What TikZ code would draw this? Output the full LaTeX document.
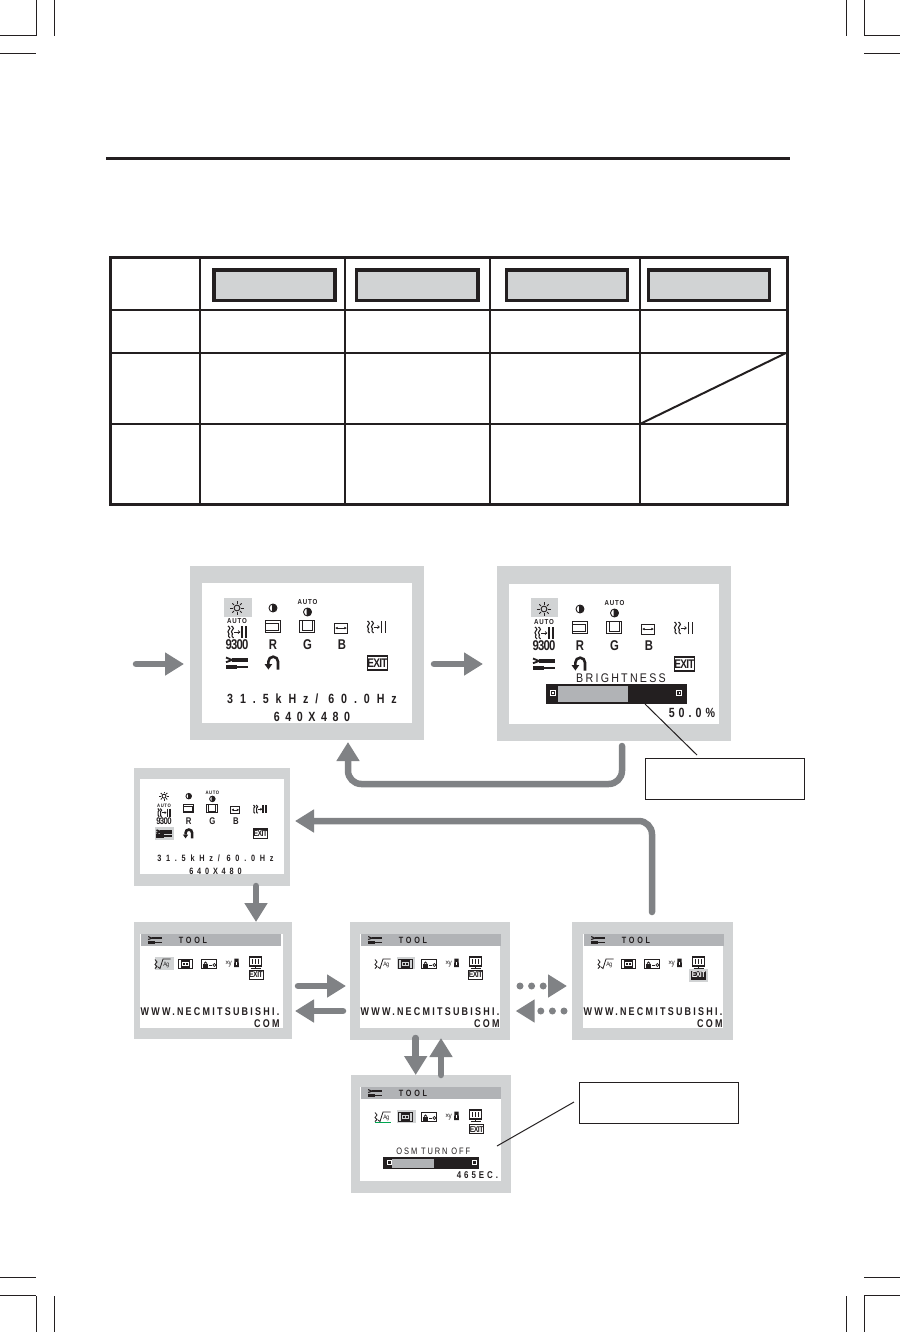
\documentclass[tikz,border=0pt]{standalone}
\usepackage{fontspec}
\setmainfont{Liberation Sans}
\newfontfamily\osdwide[FakeStretch=.8,LetterSpace=52]{Liberation Sans}
\newfontfamily\osdpair[FakeStretch=.8,LetterSpace=42]{Liberation Sans}
\newfontfamily\osdmid[FakeStretch=.8,LetterSpace=20]{Liberation Sans}
\newfontfamily\osdsemi[FakeStretch=.8,LetterSpace=30]{Liberation Sans}
\newfontfamily\osdauto[FakeStretch=.85,LetterSpace=12]{Liberation Sans}
\newfontfamily\osdthin[FakeStretch=.85,LetterSpace=18]{Liberation Sans}
\newfontfamily\osdtight[FakeStretch=.8,LetterSpace=-6]{Liberation Sans}
\usetikzlibrary{arrows.meta}
\definecolor{ink}{HTML}{231F20}
\definecolor{framegray}{HTML}{D1D3D4}
\definecolor{arrowgray}{HTML}{808285}
\definecolor{bandgray}{HTML}{B1B3B6}
\definecolor{okgreen}{HTML}{00A651}
\tikzset{
  px/.style={line width=#1*.75pt},
  ic/.style={draw=ink,px=.9},
  osdframe/.style={fill=framegray,draw=none,inner sep=0pt,anchor=north west,outer sep=0pt},
  screenw/.style={fill=white,draw=none,inner sep=0pt,anchor=north west,outer sep=0pt},
  txt/.style={inner sep=0pt,outer sep=0pt,text=ink},
  flow/.style={draw=arrowgray,px=6.5,line cap=round,-{Triangle[length=14.25pt,width=16.5pt]}},
  flowdots/.style={draw=arrowgray,px=7,line cap=round,dash pattern=on 0pt off 8.7pt,-{Triangle[length=14.25pt,width=16.5pt]}},
  tablerule/.style={draw=ink,px=2},
  tableedge/.style={draw=ink,px=3},
  headbox/.style={fill=framegray,draw=ink,px=3.5},
  leader/.style={draw=ink,px=1},
  callout/.style={draw=ink,px=1.2,fill=white},
  bargray/.style={fill=bandgray,draw=none},
  barblack/.style={fill=ink,draw=none},
}
% ---------- icons
\newcommand\icsun[1]{\begin{scope}[shift={(#1)}]\draw[ic] (0,0) circle (2.9);\foreach \a in {0,45,...,315}{\draw[ic] (\a:4.3)--(\a:6.6);}\end{scope}}
\newcommand\iccontrast[1]{\begin{scope}[shift={(#1)}]\draw[ic,fill=white] (0,0) circle (4);\fill[ink] (-1,-4) arc (-104:104:4.1) -- cycle;\end{scope}}
\newcommand\icauto[2]{\node[txt,font=\osdauto\bfseries\fontsize{5.4}{6}\selectfont] (#1) at (#2) {AUTO};}
\newcommand\ichpos[1]{\begin{scope}[shift={(#1)}]\draw[ic,px=1] (-7.5,-6) rectangle (7.5,6);\draw[ic,px=1] (-7.5,-3.5) rectangle (5,4);\end{scope}}
\newcommand\icvpos[1]{\begin{scope}[shift={(#1)}]\draw[ic,px=1] (-7.5,-6) rectangle (7.5,6);\draw[ic,px=1] (-5,-6) rectangle (5.5,3.5);\end{scope}}
\newcommand\ichsize[1]{\begin{scope}[shift={(#1)}]\draw[ic] (-6.5,-5) rectangle (6.5,5);\draw[ic,px=.7,{Latex[length=2pt,width=2pt]}-{Latex[length=2pt,width=2pt]}] (-6,0)--(6,0);\end{scope}}
\newcommand\icwave[2]{\begin{scope}[shift={(#1)}]
  \foreach \dx in {0,#2}{\draw[ic,px=1.1] (-9+\dx,-6) .. controls (-6.5+\dx,-4) and (-6.5+\dx,-3) .. (-8.5+\dx,-1.5) .. controls (-10.5+\dx,0) and (-6.5+\dx,2) .. (-8.5+\dx,3) .. controls (-9.5+\dx,4) and (-7.5+\dx,5) .. (-7+\dx,6);}
  \draw[ic,px=.7] (-3,0)--(2.6,0);\draw[ic,px=.7] (1,-1.5)--(2.8,0)--(1,1.5);
  \draw[ic,px=1.6] (5,-6)--(5,6);\draw[ic,px=1.6] (9,-6)--(9,6);\end{scope}}
\newcommand\ictools[2]{\begin{scope}[shift={(#1)},scale=#2]
  \draw[ink,px=3.8*#2] (-5.5,-3)--(11,-3);\draw[ink,px=1.8*#2] (-11,-5.5)--(-5,-3)--(-11,-.8);
  \draw[ink,px=4.2*#2] (-11,3.6)--(0,3.6);\draw[ink,px=1.8*#2] (0,3.6)--(11,3.6);\end{scope}}
\newcommand\icreturn[1]{\begin{scope}[shift={(#1)}]
  \draw[ink,px=2.6] (6,6.5)--(6,-1.5) arc (0:-180:4.8)--(-3.6,1);\fill[ink] (-7.5,1)--(.3,1)--(-3.6,6.5)--cycle;\end{scope}}
\newcommand\icexit[2]{\begin{scope}[shift={(#2)}]
  \draw[ic,px=1.2,fill=white] (-10,-7) rectangle (10,7);
  \node[txt,font=\osdtight\bfseries\fontsize{9.4}{10}\selectfont] (#1) at (0,0) {EXIT};\end{scope}}
\newcommand\icexitsmall[2]{\begin{scope}[shift={(#2)}]
  \draw[ic,px=1,fill=white] (-7,-4.5) rectangle (7,4.5);
  \node[txt,font=\osdtight\bfseries\fontsize{6.4}{7}\selectfont] (#1) at (0,0) {EXIT};\end{scope}}
\newcommand\icexitinv[2]{\begin{scope}[shift={(#2)}]
  \fill[ink] (-7.5,-4.5) rectangle (7.5,4.5);
  \node[txt,text=white,font=\osdtight\bfseries\fontsize{6.4}{7}\selectfont] (#1) at (0,0) {EXIT};\end{scope}}
% small tool icons
\newcommand\iclang[2]{\begin{scope}[shift={(#2)}]
  \draw[ic,px=.8] (-7.5,-4.5)--(-5.5,-2)--(-7.5,.5)--(-5.5,2.5)--(-7.5,4.5);
  \draw[ic,px=.8] (-4.5,3)--(-2.5,4.5)--(.5,-5)--(8,-5);
  \node[txt,font=\osdtight\fontsize{4.8}{5}\selectfont] (#1) at (3.8,.5) {Ag};\end{scope}}
\newcommand\icclock[1]{\begin{scope}[shift={(#1)}]
  \draw[ic,px=1.1] (-7,-4.8) rectangle (7,4.8);\draw[ic,px=1.1] (-4,-3) rectangle (4,3);\fill[ink] (-2.5,-1) rectangle (-.5,.5);\fill[ink] (.5,-1) rectangle (2.5,.5);\end{scope}}
\newcommand\iclock[1]{\begin{scope}[shift={(#1)}]
  \draw[ic,px=.9] (-7.5,-4.8) rectangle (7.5,4.8);\fill[ink] (-6,-.5) rectangle (-1.5,3.5);\draw[ic] (-2.2,-.5) arc (0:-180:1.5);\draw[ic,px=.7] (0,1)--(3,1);\draw[ic,px=.7] (5,1) circle (1.5);\end{scope}}
\newcommand\icxy[2]{\begin{scope}[shift={(#2)}]
  \node[txt,font=\osdtight\fontsize{6}{6}\selectfont] (#1) at (-2.8,.8) {×y};\fill[ink] (3,-4.5)--(7,-4.5)--(7.5,4)--(2.5,4)--cycle;\fill[white] (4.2,-1.5) rectangle (5.8,1.5);\end{scope}}
\newcommand\icmon[1]{\begin{scope}[shift={(#1)}]
  \draw[ic,px=1.1] (-6,-6) rectangle (6,3);\fill[ink] (-4,-4) rectangle (-2.4,1);\fill[ink] (-1,-4) rectangle (.6,1);\fill[ink] (2,-4) rectangle (3.6,1);
  \draw[ic,px=1] (0,3)--(0,5.5);\draw[ic,px=1] (-5,5.8)--(5,5.8);\end{scope}}
\newcommand\icbar[1]{\begin{scope}[shift={(#1)}]\draw[white,px=1.1] (-2.6,-2.6) rectangle (2.6,2.6);\fill[white] (-.8,-.8) rectangle (.8,.8);\end{scope}}
% ---------- the main menu
\newcommand\mainmenu[4]{\begin{scope}[shift={(#2,#3)},scale=#4,every node/.append style={transform shape}]
  \icsun{35,25}\iccontrast{71,25}\icauto{#1-a1}{105.5,19.5}\iccontrast{105.5,29}
  \icauto{#1-a2}{35,38.5}\icwave{35,49}{3.5}
  \ichpos{71,43.5}\icvpos{105,43.5}\ichsize{139,45}\icwave{174.5,44}{4}
  \node[txt,font=\osdtight\bfseries\fontsize{10.6}{11}\selectfont] (#1-t9) at (35,62) {9300};
  \node[txt,font=\osdtight\bfseries\fontsize{10.6}{11}\selectfont] (#1-r) at (71,62) {R};
  \node[txt,font=\osdtight\bfseries\fontsize{10.6}{11}\selectfont] (#1-g) at (105.5,62) {G};
  \node[txt,font=\osdtight\bfseries\fontsize{10.6}{11}\selectfont] (#1-b) at (140,62) {B};
  \ictools{35,80}{1}\icreturn{70,80}\icexit{#1-x}{175.5,80}
\end{scope}}
\newcommand\freqtext[4]{\begin{scope}[shift={(#2,#3)},scale=#4,every node/.append style={transform shape}]
  \node[txt,font=\osdwide\bfseries\fontsize{10}{11}\selectfont] (#1-f) at (110,116) {31.5kHz/ 60.0Hz};
  \node[txt,font=\osdpair\bfseries\fontsize{10}{11}\selectfont] (#1-p) at (110,134) {640X480};
\end{scope}}
% ---------- the tool menu (top band and icons)
\newcommand\toolmenu[3]{\begin{scope}[shift={(#2,#3)}]
  \fill[bandgray] (1,0) rectangle (141,12);
  \ictools{15,6}{.62}
  \node[txt,font=\osdsemi\bfseries\fontsize{6.8}{7}\selectfont] (#1-t) at (53,6.4) {TOOL};
  \iclang{#1-i1}{22.5,30}\icclock{45.5,30}\iclock{69.3,30}\icxy{#1-i4}{91.5,29}\icmon{115.7,29}
\end{scope}}
\newcommand\urltext[3]{\begin{scope}[shift={(#2,#3)}]
  \node[txt,font=\osdmid\bfseries\fontsize{8.4}{9}\selectfont] (#1-u) at (70,77.5) {WWW.NECMITSUBISHI.};
  \node[txt,anchor=east,font=\osdmid\bfseries\fontsize{8.4}{9}\selectfont] (#1-c) at (139.5,89.5) {COM};
\end{scope}}
\begin{document}
\begin{tikzpicture}[x=.75pt,y=-.75pt]
\useasboundingbox (0,0) rectangle (900,1332);
\fill[white] (0,0) rectangle (900,1332);
% crop marks
\foreach \x in {36,54.5,846,864}{\draw[ink,px=.8] (\x,0)--(\x,36);\draw[ink,px=.8] (\x,1296)--(\x,1332);}
\foreach \y in {35.5,53.5,1277.5,1295.5}{\draw[ink,px=.9] (0,\y)--(36,\y);\draw[ink,px=.9] (864,\y)--(900,\y);}
% top rule
\draw[ink,px=2.6] (106,158.7)--(790,158.7);
% table
\foreach \x in {200,345,490,640}{\draw[tablerule] (\x,257)--(\x,504);}
\foreach \y in {310,353,424}{\draw[tablerule] (110,\y)--(787,\y);}
\draw[tablerule] (640,424)--(786,353);
\draw[tableedge] (110,257) rectangle (787,504);
\draw[headbox] (214.2,269.8) rectangle (335,300.5);
\draw[headbox] (356.7,269.8) rectangle (478.2,300.5);
\draw[headbox] (506.7,269.8) rectangle (627.5,300.5);
\draw[headbox] (648.7,269.8) rectangle (769.5,300.5);
% ---------------------- monitors
\node[osdframe,minimum width=234*.75pt,minimum height=174*.75pt] (m1) at (190,566) {};
\node[screenw,minimum width=210*.75pt,minimum height=140*.75pt] (m1w) at (202,583) {};
\node[osdframe,minimum width=234*.75pt,minimum height=175*.75pt] (m2) at (497,566) {};
\node[screenw,minimum width=210*.75pt,minimum height=140*.75pt] (m2w) at (509,584) {};
\node[osdframe,minimum width=156*.75pt,minimum height=118*.75pt] (m3) at (134,768) {};
\node[screenw,minimum width=144*.75pt,minimum height=95*.75pt] (m3w) at (140,779) {};
\node[osdframe,minimum width=158*.75pt,minimum height=117*.75pt] (t1) at (134,922) {};
\node[screenw,minimum width=143*.75pt,minimum height=94*.75pt] (t1w) at (140,934) {};
\node[osdframe,minimum width=160*.75pt,minimum height=118*.75pt] (t2) at (350,922) {};
\node[screenw,minimum width=140*.75pt,minimum height=94*.75pt] (t2w) at (360,934) {};
\node[osdframe,minimum width=161*.75pt,minimum height=118*.75pt] (t3) at (572,922) {};
\node[screenw,minimum width=140*.75pt,minimum height=94*.75pt] (t3w) at (583,934) {};
\node[osdframe,minimum width=160*.75pt,minimum height=118*.75pt] (t4) at (351,1075) {};
\node[screenw,minimum width=141*.75pt,minimum height=94*.75pt] (t4w) at (360,1087) {};
% monitor 1
\fill[framegray] (224,598) rectangle (252,617);
\mainmenu{a}{202}{583}{1}
\freqtext{a}{202}{583}{1}
% monitor 2
\fill[framegray] (531,598) rectangle (558,617);
\mainmenu{b}{509}{584}{1}
\node[txt,font=\osdthin\fontsize{9.4}{10}\selectfont] (bbr) at (621,678.3) {BRIGHTNESS};
\fill[barblack] (546,684) rectangle (686.7,704);
\fill[bargray] (558,686) rectangle (628,702);
\icbar{552.7,693}\icbar{679.3,693}
\node[txt,anchor=east,font=\osdsemi\bfseries\fontsize{10}{11}\selectfont] (bpc) at (715,713) {50.0\%};
% monitor 3
\fill[framegray] (155,827) rectangle (174,840);
\mainmenu{c}{140}{779}{.686}
\freqtext{c}{140}{779}{.686}
% tool screens
\fill[framegray] (155,957) rectangle (174,970);
\toolmenu{d}{140}{934}\icexitsmall{d-x}{256,975}\urltext{d}{140}{934}
\fill[framegray] (396.7,957.3) rectangle (414.7,969.3);
\toolmenu{e}{360}{934}\icexitsmall{e-x}{475.7,975}\urltext{e}{360}{934}
\fill[framegray] (689,969) rectangle (708,982);
\toolmenu{f}{583}{934}\urltext{f}{583}{934}
\icexitinv{f-x}{698.7,975}
\fill[framegray] (397,1110) rectangle (416,1122.5);
\toolmenu{g}{360}{1087}\icexitsmall{g-x}{476.7,1129.3}
\draw[okgreen,px=1.2] (375,1122.7)--(390.7,1122.7);
\node[txt,font=\osdmid\fontsize{7}{8}\selectfont] (gosm) at (433.3,1151.7) {OSM TURN OFF};
\fill[barblack] (383.3,1156.7) rectangle (479,1169);
\fill[bargray] (392,1158.5) rectangle (434,1168);
\draw[white,px=1] (387,1160) rectangle (391,1164);\draw[white,px=1] (472,1160) rectangle (476,1164);
\node[txt,anchor=east,font=\osdsemi\bfseries\fontsize{7.4}{8}\selectfont] (gsec) at (498,1175) {465EC.};
% ---------------------- callouts
\node[callout,inner sep=0pt,minimum width=158.7*.75pt,minimum height=41*.75pt,anchor=north west] (c1) at (645,758) {};
\node[callout,inner sep=0pt,minimum width=158.7*.75pt,minimum height=41*.75pt,anchor=north west] (c2) at (579,1082) {};
\coordinate (c1a) at (645,704);\coordinate (c1b) at (697,755);
\coordinate (c2a) at (574,1102);\coordinate (c2b) at (497,1146);
\draw[leader] (c1a)--(c1b);
\draw[leader] (c2a)--(c2b);
% ---------------------- arrows
\coordinate (p1) at (136,664);\coordinate (p2) at (184,664);
\draw[flow] (p1)--(p2);
\coordinate (p3) at (434,664);\coordinate (p4) at (483,664);
\draw[flow] (p3)--(p4);
\coordinate (p5) at (622,746);\coordinate (p6) at (348,742);
\draw[flow,rounded corners=10pt] (p5)--(622,784)--(348,784)--(p6);
\coordinate (p7) at (652,912);\coordinate (p8) at (295,821);
\draw[flow,rounded corners=10pt] (p7)--(652,821)--(p8);
\coordinate (p9) at (256,886);\coordinate (p10) at (256,922);
\draw[flow] (p9)--(p10);
\coordinate (q1) at (298,986);\coordinate (q2) at (346,986);
\draw[flow] (q1)--(q2);
\coordinate (q3) at (343,1011);\coordinate (q4) at (295,1011);
\draw[flow] (q3)--(q4);
\coordinate (q5) at (520,986);\coordinate (q6) at (567,986);
\draw[flowdots] (q5)--(q6);
\coordinate (q7) at (564,1011);\coordinate (q8) at (515.7,1011);
\draw[flowdots] (q7)--(q8);
\coordinate (q9) at (415.7,1038);\coordinate (q10) at (415.7,1075);
\draw[flow] (q9)--(q10);
\coordinate (q11) at (441,1075);\coordinate (q12) at (441,1038);
\draw[flow] (q11)--(q12);
\end{tikzpicture}
\end{document}
